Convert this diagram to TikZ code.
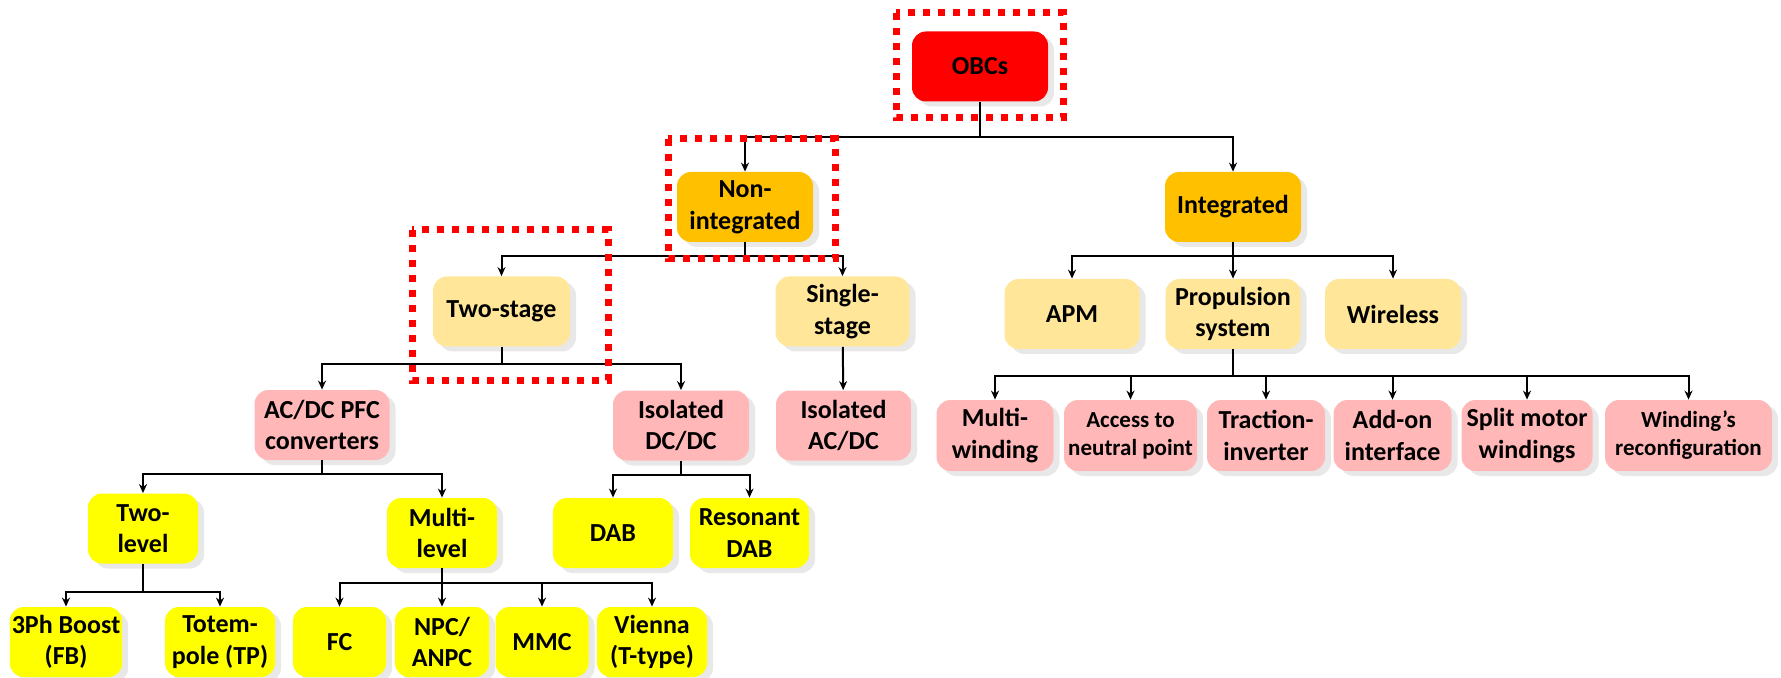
\documentclass[tikz,border=0pt]{standalone}
\usepackage{fontspec}
\setmainfont{Carlito}
\usetikzlibrary{arrows.meta,shadows}
\definecolor{obcred}{HTML}{FF0000}
\definecolor{amberbox}{HTML}{FFC000}
\definecolor{paleamber}{HTML}{FFE699}
\definecolor{pinkbox}{HTML}{FFB7B7}
\definecolor{yellowbox}{HTML}{FFFF00}
\tikzset{
  cell/.style={rounded corners=7pt, align=center, inner sep=1pt, minimum height=35pt,
    font=\bfseries\fontsize{13}{15.8}\selectfont,
    drop shadow={shadow xshift=3pt, shadow yshift=-2.5pt, opacity=0.18}},
  wd/.style={minimum width=#1*0.5pt},
  lvlzero/.style={cell, fill=obcred},
  lvlone/.style={cell, fill=amberbox},
  lvltwo/.style={cell, fill=paleamber},
  lvlthree/.style={cell, fill=pinkbox},
  lvlfour/.style={cell, fill=yellowbox},
  smalltext/.style={font=\bfseries\fontsize{11.5}{14}\selectfont},
  link/.style={->, line width=1pt},
  redframe/.style={draw=obcred, line width=3.5pt, dash pattern=on 3.5pt off 4pt}
}
\begin{document}
\begin{tikzpicture}[x=0.5pt, y=-0.5pt, >={Stealth[length=4.5pt,width=4pt]}]
        \useasboundingbox (0,0) rectangle (1781,678);
        %% root
        \node[lvlzero, wd=136] (obc) at (980,66.5) {OBCs};
        %% first level
        \node[lvlone, wd=136] (nonint) at (745,207) {Non-\\integrated};
        \node[lvlone, wd=136] (integ) at (1233,207) {Integrated};
        %% non-integrated branch
        \node[lvltwo, wd=137] (twostage) at (501.5,311.5) {Two-stage};
        \node[lvltwo, wd=134] (single) at (842.5,311.5) {Single-\\stage};
        \node[lvlthree, wd=135] (acdc) at (322,425) {AC/DC PFC\\converters};
        \node[lvlthree, wd=136] (isodcdc) at (681,425.5) {Isolated\\DC/DC};
        \node[lvlthree, wd=135] (isoacdc) at (843.5,425.5) {Isolated\\AC/DC};
        \node[lvlfour, wd=110] (twolevel) at (143,528.5) {Two-\\level};
        \node[lvlfour, wd=110] (multilevel) at (442,533) {Multi-\\level};
        \node[lvlfour, wd=120] (dab) at (613,533) {DAB};
        \node[lvlfour, wd=119] (resdab) at (749.5,533) {Resonant\\DAB};
        \node[lvlfour, wd=109] (boost) at (66,642) {3Ph Boost\\(FB)};
        \node[lvlfour, wd=110] (totem) at (220,642) {Totem-\\pole (TP)};
        \node[lvlfour, wd=93] (fc) at (339.5,642) {FC};
        \node[lvlfour, wd=94] (npc) at (442,642) {NPC/\\ANPC};
        \node[lvlfour, wd=93] (mmc) at (542,642) {MMC};
        \node[lvlfour, wd=110] (vienna) at (652,642) {Vienna\\(T-type)};
        %% integrated branch
        \node[lvltwo, wd=135] (apm) at (1072,314) {APM};
        \node[lvltwo, wd=135] (prop) at (1233,314) {Propulsion\\system};
        \node[lvltwo, wd=136] (wireless) at (1393,314) {Wireless};
        \node[lvlthree, wd=117, minimum height=35.5pt] (mw) at (995,435.5) {Multi-\\winding};
        \node[lvlthree, wd=133, minimum height=35.5pt, smalltext] (access) at (1130.5,435.5) {Access to\\neutral point};
        \node[lvlthree, wd=118, minimum height=35.5pt] (traction) at (1266,435.5) {Traction-\\inverter};
        \node[lvlthree, wd=118, minimum height=35.5pt] (addon) at (1392.5,435.5) {Add-on\\interface};
        \node[lvlthree, wd=131, minimum height=35.5pt] (split) at (1527,435.5) {Split motor\\windings};
        \node[lvlthree, wd=167, minimum height=35.5pt, smalltext] (windrec) at (1688.5,435.5) {Winding's\\reconfiguration};
        %% connectors
        \foreach \n in {nonint,integ} \draw[link] (obc.south) -- ++(0,35) -| (\n.north);
        \foreach \n in {twostage,single} \draw[link] (nonint.south) -- ++(0,14) -| (\n.north);
        \foreach \n in {acdc,isodcdc} \draw[link] (twostage.south) -- ++(0,17) -| (\n.north);
        \draw[link] (single) -- (isoacdc);
        \foreach \n in {twolevel,multilevel} \draw[link] (acdc.south) -- ++(0,14) -| (\n.north);
        \foreach \n in {dab,resdab} \draw[link] (isodcdc.south) -- ++(0,14) -| (\n.north);
        \foreach \n in {boost,totem} \draw[link] (twolevel.south) -- ++(0,28) -| (\n.north);
        \foreach \n in {fc,npc,mmc,vienna} \draw[link] (multilevel.south) -- ++(0,15) -| (\n.north);
        \foreach \n in {apm,prop,wireless} \draw[link] (integ.south) -- ++(0,14) -| (\n.north);
        \foreach \n in {mw,access,traction,addon,split,windrec} \draw[link] (prop.south) -- ++(0,27) -| (\n.north);
        %% highlighted path
        \draw[redframe] (896,13) rectangle (1063,118);
        \draw[redframe] (668,139) rectangle (835,259);
        \draw[redframe] (412,230) rectangle (608,380);
\end{tikzpicture}
\end{document}
